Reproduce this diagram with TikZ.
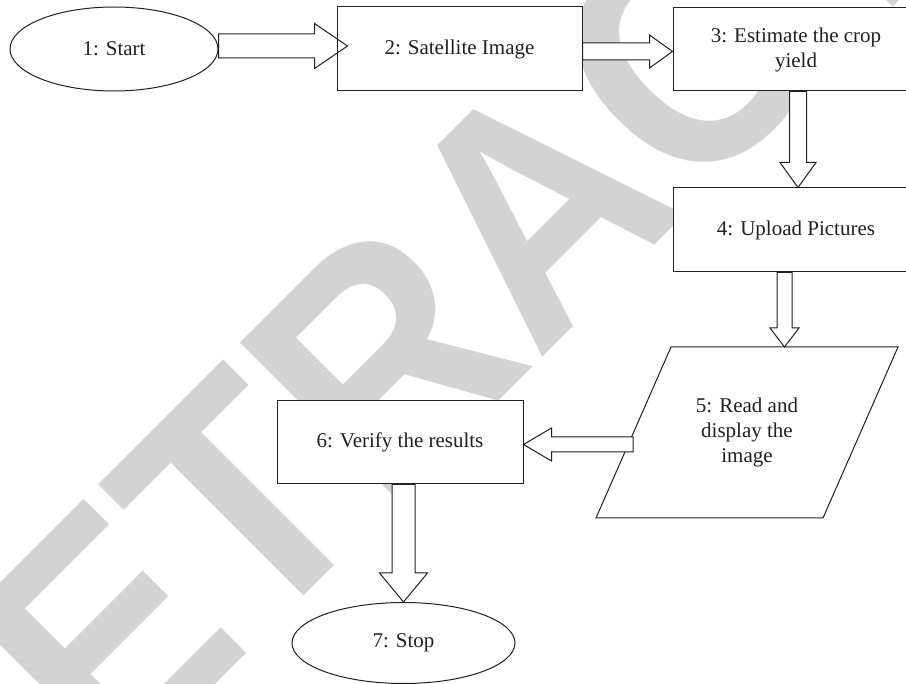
\documentclass[tikz,border=0pt]{standalone}
\usepackage{fontspec}
\setmainfont{Liberation Serif}
\newfontfamily\wmfont{Liberation Sans}
\usetikzlibrary{calc,shapes.geometric}
\definecolor{wm}{RGB}{211,211,211}
\definecolor{ink}{RGB}{35,31,32}
\tikzset{
  every node/.style={font=\fontsize{21}{25}\selectfont, text=ink},
  proc/.style={draw=ink, line width=1pt, fill=white, rectangle, inner sep=0pt},
  term/.style={draw=ink, line width=1pt, fill=white, ellipse, inner sep=0pt},
  para/.style={draw=ink, line width=1pt, fill=white, line join=miter},
  barrow/.style={draw=ink, line width=1pt, fill=white, line join=miter},
  barrowopen/.style={draw=ink, line width=1pt, line join=miter},
}
% horizontal block arrow: start, tip, shaft half, head half, head length (signed)
\newcommand\harrow[6]{%
  \path[#6] let \p1=(#1), \p2=(#2) in
   (\x1,{\y2+#3}) -- ({\x2-(#5)},{\y2+#3}) -- ({\x2-(#5)},{\y2+#4}) -- (\p2)
   -- ({\x2-(#5)},{\y2-#4}) -- ({\x2-(#5)},{\y2-#3}) -- (\x1,{\y2-#3}) -- cycle;}
% vertical (downward) block arrow
\newcommand\varrow[6]{%
  \path[#6] let \p1=(#1), \p2=(#2) in
   ({\x2-#3},\y1) -- ({\x2-#3},{\y2+#5}) -- ({\x2-#4},{\y2+#5}) -- (\p2)
   -- ({\x2+#4},{\y2+#5}) -- ({\x2+#3},{\y2+#5}) -- ({\x2+#3},\y1) -- cycle;}
\begin{document}
\begin{tikzpicture}[x=1pt,y=-1pt]
\useasboundingbox (0,0) rectangle (906,684);
\clip (0,0) rectangle (906,684);
\fill[white] (0,0) rectangle (906,684);
% watermark
\node[font=\wmfont\bfseries\fontsize{300}{300}\selectfont, text=wm, anchor=base,
      inner sep=0pt, rotate=45, yscale=1.085] (wmark) at (614,286) {RETRACTED};
% nodes
\node[term, minimum width=208pt, minimum height=84pt] (n1) at (114,49) {1: Start};
\node[proc, minimum width=245pt, minimum height=84pt] (n2) at (459.5,49) {2: Satellite Image};
\node[proc, minimum width=246pt, minimum height=83pt, align=center] (n3) at (796,49.5) {3: Estimate the crop\\yield};
\node[proc, minimum width=246pt, minimum height=84pt] (n4) at (796,230) {4: Upload Pictures};
\coordinate (c5) at (747,432.5);
\path[para] ($(c5)+(-76,-85.5)$) coordinate (p5tl) -- ($(c5)+(151,-85.5)$) coordinate (p5tr)
   -- ($(c5)+(76,85.5)$) coordinate (p5br) -- ($(c5)+(-151,85.5)$) coordinate (p5bl) -- cycle;
\node[align=center, inner sep=0pt] (n5) at (c5) {5: Read and\\display the\\image};
\node[proc, minimum width=246pt, minimum height=83pt] (n6) at (400,442.5) {6: Verify the results};
\node[term, minimum width=223pt, minimum height=81pt] (n7) at (403.5,643) {7: Stop};
% connector end points
\coordinate (t12) at ($(n2.west)+(11,-3)$);
\coordinate (t23) at ($(n3.west)+(0,2)$);
\coordinate (t34) at ($(n4.north)+(2,0)$);
\coordinate (t45) at ($(c5)+(37.5,-85.5)$);
\coordinate (s56) at ($(c5)+(-114,12)$);
\coordinate (t56) at ($(n6.east)+(0,2)$);
% block arrows
\harrow{n1.east}{t12}{12pt}{22.5pt}{33pt}{barrowopen}
\harrow{n2.east}{t23}{8.5pt}{16.5pt}{23pt}{barrow}
\varrow{n3.south}{t34}{8.5pt}{18pt}{25pt}{barrow}
\varrow{n4.south}{t45}{7.5pt}{14.5pt}{19pt}{barrow}
\harrow{s56}{t56}{7.5pt}{16.5pt}{-28pt}{barrow}
\varrow{n6.south}{n7.north}{11.5pt}{24pt}{29pt}{barrow}
\end{tikzpicture}
\end{document}
